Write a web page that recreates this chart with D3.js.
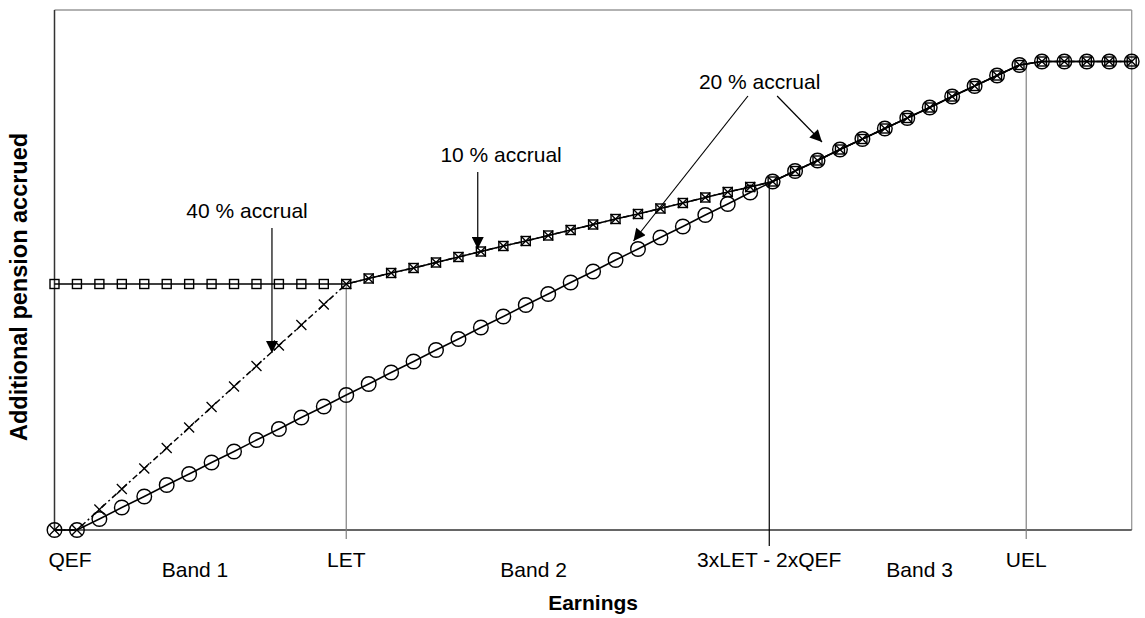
<!doctype html>
<html>
<head>
  <meta charset="utf-8">
  <script src="https://d3js.org/d3.v7.min.js"></script>
  <style>
    body {margin: 0; background: #fff;}
    text {font-family: "Liberation Sans", Arial, sans-serif; fill: #000;}
  </style>
</head>
<body>
  <svg id="chart" width="1145" height="618"></svg>
  <script>
    const width = 1145, height = 618

    // earnings steps along the x axis (one marker per step)
    const earnings = [0,1,2,3,4,5,6,7,8,9,10,11,12,13,14,15,16,17,18,19,20,21,22,23,24,
                      25,26,27,28,29,30,31,32,33,34,35,36,37,38,39,40,41,42,43,44,45,46,47,48]

    // circles: 20 % accrual from QEF
    const circleVals = [0,0,2.2,4.5,6.7,9.0,11.2,13.5,15.7,18.0,20.2,22.5,24.7,27.0,29.2,31.5,
                        33.7,36.0,38.2,40.5,42.7,45.0,47.2,49.5,51.7,54.0,56.2,58.5,60.7,63.0,
                        65.2,67.5,69.7,71.8,73.9,76.1,78.2,80.3,82.4,84.5,86.7,88.8,90.9,93.0,
                        93.7,93.7,93.7,93.7,93.7]
    // squares: flat up to LET, then 10 %, then 20 %
    const squareVals = [49.2,49.2,49.2,49.2,49.2,49.2,49.2,49.2,49.2,49.2,49.2,49.2,49.2,49.2,
                        50.3,51.4,52.4,53.5,54.6,55.7,56.8,57.8,58.9,60.0,61.1,62.2,63.2,64.3,
                        65.4,66.5,67.6,68.6,69.7,71.8,73.9,76.1,78.2,80.3,82.4,84.5,86.7,88.8,
                        90.9,93.0,93.7,93.7,93.7,93.7,93.7]
    // crosses: 40 % up to LET, then as squares
    const crossVals = [0,0,4.1,8.2,12.3,16.4,20.5,24.6,28.7,32.8,36.9,41.0,45.1,49.2,
                       50.3,51.4,52.4,53.5,54.6,55.7,56.8,57.8,58.9,60.0,61.1,62.2,63.2,64.3,
                       65.4,66.5,67.6,68.6,69.7,71.8,73.9,76.1,78.2,80.3,82.4,84.5,86.7,88.8,
                       90.9,93.0,93.7,93.7,93.7,93.7,93.7]

    // threshold lines: name, earnings step, top of line (pension)
    const thresholdNames = ['QEF', 'LET', '3xLET - 2xQEF', 'UEL']
    const thresholdSteps = [0, 13, 31.85, 43.3]
    const thresholdTops  = [0, 49.2, 69.5, 93.7]

    const bandNames = ['Band 1', 'Band 2', 'Band 3']
    const bandSteps = [6.26, 21.35, 38.55]

    // annotations: label, label position, arrows [from step, from value, to step, to value]
    const noteLabels = ['40 % accrual', '10 % accrual', '20 % accrual']
    const notePos = [[8.58, 62.4], [19.9, 73.6], [31.42, 88.2]]
    const noteArrows = [
      [[9.69, 60.4, 9.69, 35.4]],
      [[18.86, 71.6, 18.86, 56.2]],
      [[30.9, 86.8, 25.8, 57.8], [32.2, 86.8, 34.2, 77.6]]
    ]

    const margin = {left: 54.5, right: 13.3, top: 10, bottom: 88}
    const x = d3.scaleLinear().domain([0, 48]).range([margin.left, width - margin.right])
    const y = d3.scaleLinear().domain([0, 104]).range([height - margin.bottom, margin.top])

    const svg = d3.select('#chart')

    svg.append('defs').append('marker')
      .attr('id', 'head')
      .attr('viewBox', '0 0 10 10')
      .attr('refX', 10).attr('refY', 5)
      .attr('markerWidth', 14).attr('markerHeight', 12)
      .attr('markerUnits', 'userSpaceOnUse')
      .attr('orient', 'auto')
      .append('path').attr('d', 'M0,0 L10,5 L0,10 z').attr('fill', '#000')

    // frame
    const x0 = x(0), x1 = x(48), y0 = y(0), y1 = y(104)
    svg.append('line').attr('x1', x0).attr('x2', x1).attr('y1', y1).attr('y2', y1)
      .attr('stroke', '#999').attr('stroke-width', 1.3)
    svg.append('line').attr('x1', x1).attr('x2', x1).attr('y1', y1).attr('y2', y0)
      .attr('stroke', '#999').attr('stroke-width', 1.3)
    svg.append('line').attr('x1', x0).attr('x2', x0).attr('y1', y1).attr('y2', y0)
      .attr('stroke', '#333').attr('stroke-width', 1.5)
    svg.append('line').attr('x1', x0).attr('x2', x1).attr('y1', y0).attr('y2', y0)
      .attr('stroke', '#333').attr('stroke-width', 1.5)

    // threshold lines
    const tcol = ['#333', '#808080', '#000', '#808080']
    thresholdSteps.forEach((s, i) => {
      if (i === 0) return
      svg.append('line')
        .attr('x1', x(s)).attr('x2', x(s))
        .attr('y1', y(thresholdTops[i])).attr('y2', y0 + (i === 2 ? 16 : 9))
        .attr('stroke', tcol[i]).attr('stroke-width', 1.2)
    })

    // labels along the earnings axis
    const tlab = svg.append('g').attr('font-size', 21)
    thresholdNames.forEach((n, i) => {
      tlab.append('text')
        .attr('x', i === 0 ? x(thresholdSteps[i]) - 6 : x(thresholdSteps[i]))
        .attr('y', 567)
        .attr('text-anchor', i === 0 ? 'start' : 'middle')
        .text(n)
    })
    bandNames.forEach((n, i) => {
      tlab.append('text').attr('x', x(bandSteps[i])).attr('y', 577)
        .attr('text-anchor', 'middle').text(n)
    })

    svg.append('text').attr('x', (x0 + x1) / 2).attr('y', 610)
      .attr('text-anchor', 'middle').attr('font-size', 21).attr('font-weight', 'bold')
      .text('Earnings')
    svg.append('text')
      .attr('transform', `translate(27,441) rotate(-90)`)
      .attr('text-anchor', 'start').attr('font-size', 23.5).attr('font-weight', 'bold')
      .text('Additional pension accrued')

    // series lines
    const line = vals => d3.line().x((d, i) => x(earnings[i])).y(d => y(d))(vals)
    svg.append('path').attr('d', line(crossVals)).attr('fill', 'none')
      .attr('stroke', '#000').attr('stroke-width', 1.5).attr('stroke-dasharray', '6,3,2,3')
    svg.append('path').attr('d', line(squareVals)).attr('fill', 'none')
      .attr('stroke', '#000').attr('stroke-width', 1.5)
    svg.append('path').attr('d', line(circleVals)).attr('fill', 'none')
      .attr('stroke', '#000').attr('stroke-width', 1.5)

    // markers
    svg.append('g').selectAll('rect').data(squareVals).join('rect')
      .attr('x', (d, i) => x(earnings[i]) - 4.5).attr('y', d => y(d) - 4.5)
      .attr('width', 9).attr('height', 9)
      .attr('fill', 'none').attr('stroke', '#000').attr('stroke-width', 1.4)
    svg.append('g').selectAll('path').data(crossVals).join('path')
      .attr('d', (d, i) => {
        const cx = x(earnings[i]), cy = y(d), r = 5
        return `M${cx - r},${cy - r}L${cx + r},${cy + r}M${cx - r},${cy + r}L${cx + r},${cy - r}`
      })
      .attr('stroke', '#000').attr('stroke-width', 1.3)
    svg.append('g').selectAll('circle').data(circleVals).join('circle')
      .attr('cx', (d, i) => x(earnings[i])).attr('cy', d => y(d)).attr('r', 7.3)
      .attr('fill', 'none').attr('stroke', '#000').attr('stroke-width', 1.4)

    // annotations
    noteLabels.forEach((t, i) => {
      svg.append('text').attr('x', x(notePos[i][0])).attr('y', y(notePos[i][1]))
        .attr('text-anchor', 'middle').attr('font-size', 21).text(t)
      noteArrows[i].forEach(a => {
        svg.append('line')
          .attr('x1', x(a[0])).attr('y1', y(a[1]))
          .attr('x2', x(a[2])).attr('y2', y(a[3]))
          .attr('stroke', '#000').attr('stroke-width', 1.2)
          .attr('marker-end', 'url(#head)')
      })
    })
  </script>
</body>
</html>
